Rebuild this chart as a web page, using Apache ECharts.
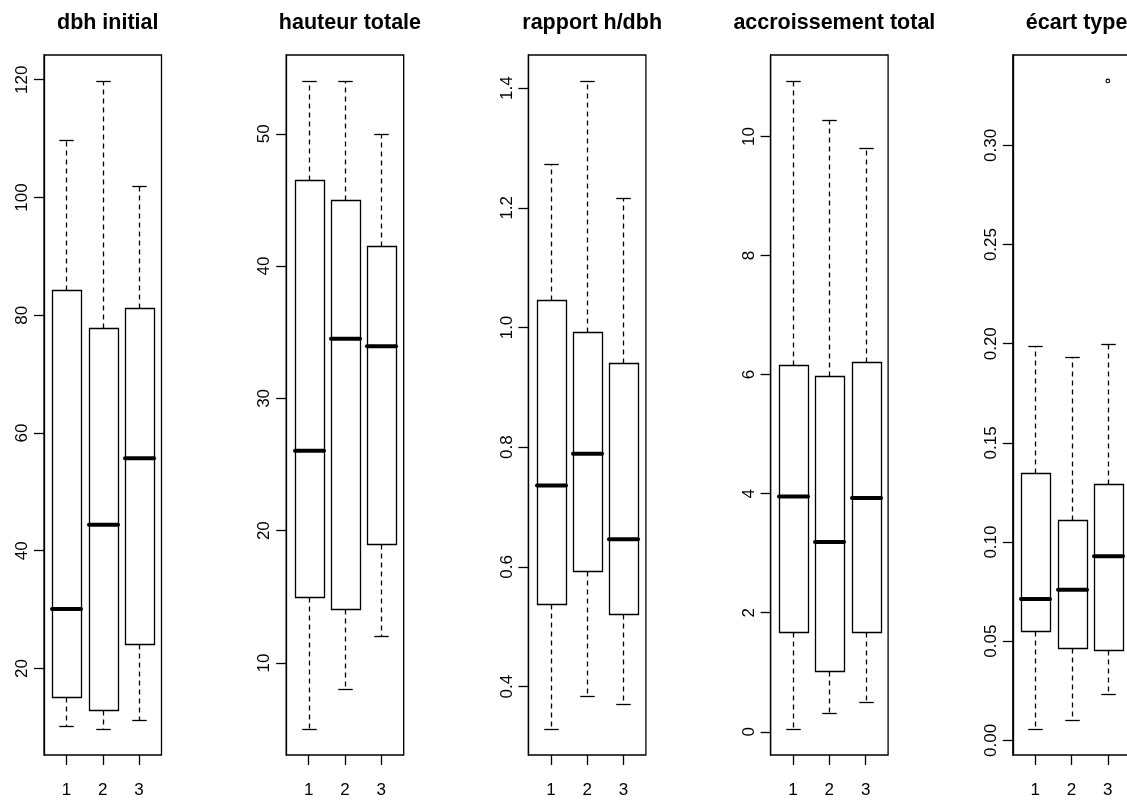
<!DOCTYPE html>
<html>
<head>
<meta charset="utf-8">
<script src="https://cdn.jsdelivr.net/npm/echarts@6/dist/echarts.min.js"></script>
<style>
html,body{margin:0;padding:0;background:#fff;}
#chart{width:1127px;height:801px;}
</style>
</head>
<body>
<div id="chart"></div>
<script>
// ---- data ----
const panelTitles = ['dbh initial', 'hauteur totale', 'rapport h/dbh', 'accroissement total', 'écart type'];
const groups = ['1', '2', '3'];
// each row: [lower whisker, Q1, median, Q3, upper whisker]
const dbhInitial = [[10.2, 15.1, 30.1, 84.3, 109.8], [9.7, 12.95, 44.4, 77.8, 119.8], [11.3, 24.2, 55.7, 81.2, 102.0]];
const hauteurTotale = [[5.0, 15.0, 26.05, 46.5, 54.0], [8.0, 14.05, 34.5, 45.0, 54.0], [12.0, 19.0, 33.94, 41.5, 50.0]];
const rapportHdbh = [[0.329, 0.538, 0.736, 1.046, 1.273], [0.385, 0.593, 0.789, 0.993, 1.412], [0.371, 0.522, 0.646, 0.940, 1.217]];
const accroissementTotal = [[0.045, 1.67, 3.954, 6.159, 10.934], [0.314, 1.025, 3.186, 5.98, 10.28], [0.494, 1.67, 3.925, 6.214, 9.80]];
const ecartType = [[0.0057, 0.0553, 0.0713, 0.135, 0.199], [0.0104, 0.0466, 0.076, 0.111, 0.1935], [0.0233, 0.0457, 0.0928, 0.1295, 0.200]];
// outliers: [group, value]
const dbhOutliers = [];
const hauteurOutliers = [];
const rapportOutliers = [];
const accroissementOutliers = [];
const ecartOutliers = [[3, 0.3325]];
// tick labels
const dbhTicks = ['20', '40', '60', '80', '100', '120'];
const hauteurTicks = ['10', '20', '30', '40', '50'];
const rapportTicks = ['0.4', '0.6', '0.8', '1.0', '1.2', '1.4'];
const accroissementTicks = ['0', '2', '4', '6', '8', '10'];
const ecartTicks = ['0.00', '0.05', '0.10', '0.15', '0.20', '0.25', '0.30'];

const panelStats = [dbhInitial, hauteurTotale, rapportHdbh, accroissementTotal, ecartType];
const panelOutliers = [dbhOutliers, hauteurOutliers, rapportOutliers, accroissementOutliers, ecartOutliers];
const panelTicks = [dbhTicks, hauteurTicks, rapportTicks, accroissementTicks, ecartTicks];

// ---- layout ----
const FONT = '"Liberation Sans", Arial, Helvetica, sans-serif';
const plotLeft0 = 44, plotStep = 242.2, plotTop = 55, plotW = 117.5, plotH = 700;
const boxWex = 0.8;
const LW = 1.3;

const grids = [], xAxes = [], yAxes = [], series = [], titles = [];

panelStats.forEach(function (stats, i) {
  const outs = panelOutliers[i];
  const ticks = panelTicks[i];
  let lo = Infinity, hi = -Infinity;
  stats.forEach(function (r) { lo = Math.min(lo, r[0]); hi = Math.max(hi, r[4]); });
  outs.forEach(function (o) { lo = Math.min(lo, o[1]); hi = Math.max(hi, o[1]); });
  const pad = (hi - lo) * 0.04;
  const left = plotLeft0 + i * plotStep;

  grids.push({
    left: left, top: plotTop, width: plotW, height: plotH,
    outerBoundsMode: 'none', containLabel: false,
    show: true, borderColor: '#000', borderWidth: LW, backgroundColor: 'transparent'
  });
  titles.push({
    text: panelTitles[i], left: left + plotW / 2, top: 7, textAlign: 'center',
    textStyle: { fontFamily: FONT, fontWeight: 'bold', fontSize: 21.5, color: '#000' }
  });
  const nG = groups.length;
  const xPad = nG * 0.04;
  xAxes.push({
    gridIndex: i, type: 'value', min: 0.5 - xPad, max: nG + 0.5 + xPad,
    splitLine: { show: false },
    axisLine: { show: false, onZero: false },
    axisTick: { show: true, inside: false, length: 10, customValues: groups.map(Number), lineStyle: { color: '#000', width: LW } },
    axisLabel: {
      show: true, customValues: groups.map(Number), margin: 27,
      fontFamily: FONT, fontSize: 17, color: '#000',
      formatter: function (v) { return groups[Math.round(v) - 1]; }
    }
  });
  const tickVals = ticks.map(parseFloat);
  yAxes.push({
    gridIndex: i, type: 'value', min: lo - pad, max: hi + pad,
    splitLine: { show: false },
    axisLine: { show: true, onZero: false, lineStyle: { color: '#000', width: LW } },
    axisTick: { show: true, inside: false, length: 10, customValues: tickVals, lineStyle: { color: '#000', width: LW } },
    axisLabel: {
      show: true, customValues: tickVals, rotate: 90, margin: 13,
      fontFamily: FONT, fontSize: 17, color: '#000',
      formatter: function (v) {
        let best = 0, bd = Infinity;
        tickVals.forEach(function (t, k) { const d = Math.abs(t - v); if (d < bd) { bd = d; best = k; } });
        return ticks[best];
      }
    }
  });

  series.push({
    type: 'custom', xAxisIndex: i, yAxisIndex: i,
    data: stats.map(function (r, g) { return [g + 1].concat(r); }),
    encode: { x: 0, y: [1, 2, 3, 4, 5] },
    clip: false,
    renderItem: function (params, api) {
      const x = api.value(0);
      const pLo = api.coord([x, api.value(1)]);
      const pQ1 = api.coord([x, api.value(2)]);
      const pMed = api.coord([x, api.value(3)]);
      const pQ3 = api.coord([x, api.value(4)]);
      const pHi = api.coord([x, api.value(5)]);
      const halfW = api.size([boxWex, 0])[0] / 2;
      const cx = Math.round(pQ1[0]) + 0.5;
      const r = function (v) { return Math.round(v) + 0.5; };
      const black = '#000';
      return {
        type: 'group',
        children: [
          { type: 'line', shape: { x1: cx, y1: r(pQ3[1]), x2: cx, y2: r(pHi[1]) }, style: { stroke: black, lineWidth: LW, lineDash: [5, 4] } },
          { type: 'line', shape: { x1: cx, y1: r(pQ1[1]), x2: cx, y2: r(pLo[1]) }, style: { stroke: black, lineWidth: LW, lineDash: [5, 4] } },
          { type: 'line', shape: { x1: cx - halfW / 2, y1: r(pHi[1]), x2: cx + halfW / 2, y2: r(pHi[1]) }, style: { stroke: black, lineWidth: LW } },
          { type: 'line', shape: { x1: cx - halfW / 2, y1: r(pLo[1]), x2: cx + halfW / 2, y2: r(pLo[1]) }, style: { stroke: black, lineWidth: LW } },
          { type: 'rect', shape: { x: r(cx - halfW), y: r(pQ3[1]), width: Math.round(2 * halfW), height: Math.round(pQ1[1]) - Math.round(pQ3[1]) }, style: { stroke: black, fill: 'none', lineWidth: LW } },
          { type: 'line', shape: { x1: cx - halfW, y1: pMed[1], x2: cx + halfW, y2: pMed[1] }, style: { stroke: black, lineWidth: 4, lineCap: 'round' } }
        ]
      };
    }
  });
  if (outs.length) {
    series.push({
      type: 'custom', xAxisIndex: i, yAxisIndex: i,
      data: outs,
      encode: { x: 0, y: 1 },
      clip: false,
      renderItem: function (params, api) {
        const p = api.coord([api.value(0), api.value(1)]);
        return { type: 'circle', shape: { cx: p[0], cy: p[1], r: 1.8 }, style: { stroke: '#000', fill: 'none', lineWidth: 1.1 } };
      }
    });
  }
});

const chart = echarts.init(document.getElementById('chart'), null, { renderer: 'canvas' });
chart.setOption({
  backgroundColor: '#fff',
  animation: false,
  title: titles,
  grid: grids,
  xAxis: xAxes,
  yAxis: yAxes,
  series: series
});
</script>
</body>
</html>
